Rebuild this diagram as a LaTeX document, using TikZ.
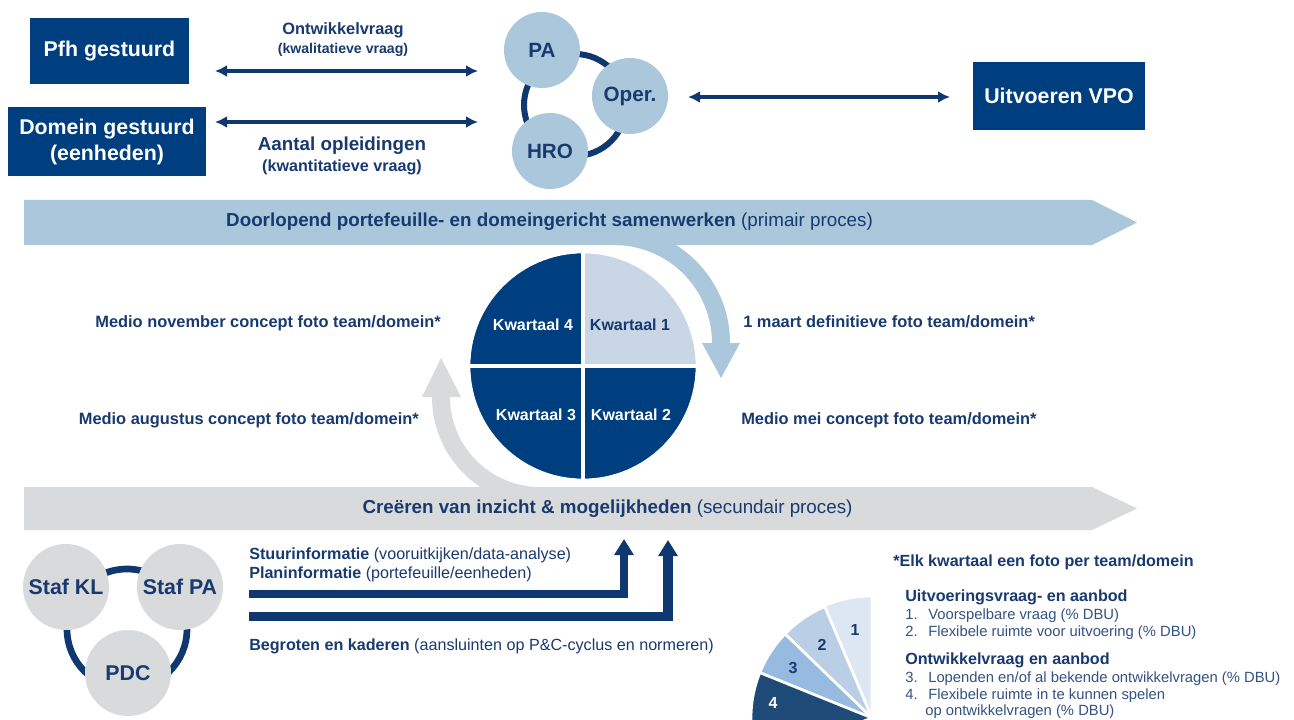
\documentclass[tikz,border=0pt]{standalone}
\usepackage{fontspec}
\setmainfont{Liberation Sans}
\usetikzlibrary{arrows.meta}
\definecolor{dblue}{RGB}{0,63,127}
\definecolor{tblue}{RGB}{24,58,112}
\definecolor{nblue}{RGB}{16,56,112}
\definecolor{bandb}{RGB}{171,199,219}
\definecolor{bandg}{RGB}{217,218,220}
\definecolor{qlight}{RGB}{200,214,230}
\definecolor{ltext}{RGB}{52,82,130}
\definecolor{sone}{RGB}{221,231,243}
\definecolor{stwo}{RGB}{186,207,230}
\definecolor{sthree}{RGB}{150,186,224}
\definecolor{sfour}{RGB}{30,74,120}
\begin{document}
\begin{tikzpicture}[x=0.75pt,y=-0.75pt,
  box/.style={fill=dblue, text=white, font=\bfseries\fontsize{16}{19.5}\selectfont, align=center, inner sep=0pt},
  topc/.style={circle, fill=bandb, minimum size=57pt, inner sep=0pt, text=tblue, font=\bfseries\fontsize{15.5}{18}\selectfont},
  botc/.style={circle, fill=bandg, minimum size=64.5pt, inner sep=0pt, text=tblue, font=\bfseries\fontsize{16}{19}\selectfont},
  dbl/.style={draw=nblue, line width=2.4pt, {Latex[length=9pt,width=9pt]}-{Latex[length=9pt,width=9pt]}},
  lbl/.style={text=tblue, inner sep=0pt, font=\bfseries\fontsize{12.3}{14}\selectfont},
  qlbl/.style={inner sep=0pt, font=\bfseries\fontsize{12}{14}\selectfont},
  bandtxt/.style={text=tblue, inner sep=0pt, font=\fontsize{14.1}{17}\selectfont},
  btxt/.style={text=tblue, inner sep=0pt, anchor=west, font=\fontsize{12.1}{14}\selectfont},
  ltxt/.style={text=ltext, inner sep=0pt, anchor=west, text height=8.2pt, text depth=2.4pt, font=\fontsize{11.1}{13}\selectfont},
  hd/.style={text=tblue, inner sep=0pt, anchor=west, font=\bfseries\fontsize{12.1}{14}\selectfont},
  larrow/.style={draw=nblue, line join=miter, -{Triangle[length=12pt,width=14pt]}},
  pnum/.style={inner sep=0pt, font=\bfseries\fontsize{12}{14}\selectfont}
]
\useasboundingbox (0,0) rectangle (1294,720);
\fill[white] (0,0) rectangle (1294,720);

% ---- top row boxes
\node[box, minimum width=119pt, minimum height=49pt] (pfh) at (109.5,51) {Pfh gestuurd};
\node[box, minimum width=148.5pt, minimum height=52pt] (dom) at (107,141.5) {Domein gestuurd\\(eenheden)};
\node[box, minimum width=129pt, minimum height=51pt] (vpo) at (1059,96) {Uitvoeren VPO};

% ---- top ring of circles
\draw[nblue, line width=4.5pt] (575,105) circle[radius=51];
\node[topc] (pa) at (542,50) {PA};
\node[topc] (oper) at (630,96) {Oper.};
\node[topc] (hro) at (550,151) {HRO};

% ---- double arrows
\coordinate (a1l) at (215,71); \coordinate (a1r) at (478,71);
\coordinate (a2l) at (215,122); \coordinate (a2r) at (478,122);
\coordinate (a3l) at (688,97); \coordinate (a3r) at (950,97);
\draw[dbl] (a1l) -- (a1r);
\draw[dbl] (a2l) -- (a2r);
\draw[dbl] (a3l) -- (a3r);
\node[text=tblue, font=\bfseries\fontsize{12.3}{14}\selectfont] (ow) at (343,30) {Ontwikkelvraag};
\node[text=tblue, font=\bfseries\fontsize{10.6}{12}\selectfont] (kw) at (343,50) {(kwalitatieve vraag)};
\node[text=tblue, font=\bfseries\fontsize{14.1}{16}\selectfont] (ao) at (342,146) {Aantal opleidingen};
\node[text=tblue, font=\bfseries\fontsize{12.1}{14}\selectfont] (kn) at (342,167) {(kwantitatieve vraag)};

% ---- process bands and curved arrows
\fill[bandb] (24,200) -- (1092,200) -- (1137,222.5) -- (1092,245) -- (24,245) -- cycle;
\fill[bandb] (614,227) arc[start angle=-90, end angle=0, radius=116] -- (740,343) -- (721,378) -- (702,343) -- (712,343) arc[start angle=0, end angle=-90, radius=98] -- cycle;
\fill[bandg] (24,487) -- (1092,487) -- (1137,508.5) -- (1092,530) -- (24,530) -- cycle;
\fill[bandg] (540,487) arc[start angle=90, end angle=180, radius=90] -- (461,397) -- (441,358) -- (422,397) -- (432,397) arc[start angle=180, end angle=90, radius=108] -- cycle;
\node[bandtxt] (prim) at (549.5,222) {\textbf{Doorlopend portefeuille- en domeingericht samenwerken} (primair proces)};
\node[bandtxt] (sec) at (607.5,509) {\textbf{Creëren van inzicht \& mogelijkheden} (secundair proces)};

% ---- quarter circle
\coordinate (qc) at (583,366);
\fill[dblue] (qc) -- (583,253) arc[start angle=-90, end angle=-180, radius=113] -- cycle;
\fill[qlight] (qc) -- (583,253) arc[start angle=-90, end angle=0, radius=113] -- cycle;
\fill[dblue] (qc) -- (696,366) arc[start angle=0, end angle=90, radius=113] -- cycle;
\fill[dblue] (qc) -- (583,479) arc[start angle=90, end angle=180, radius=113] -- cycle;
\draw[white, line width=3pt] (583,250) -- (583,482) (467,366) -- (699,366);
\draw[white, line width=2pt] (qc) circle[radius=114];
\node[qlbl, text=white] (k4) at (533,325) {Kwartaal 4};
\node[qlbl, text=tblue] (k1) at (630,325) {Kwartaal 1};
\node[qlbl, text=white] (k3) at (536,415) {Kwartaal 3};
\node[qlbl, text=white] (k2) at (631,415) {Kwartaal 2};

% ---- side labels
\node[lbl, anchor=east] (nov) at (441,323) {Medio november concept foto team/domein*};
\node[lbl, anchor=east] (aug) at (419,420) {Medio augustus concept foto team/domein*};
\node[lbl, anchor=west] (maa) at (743,322) {1 maart definitieve foto team/domein*};
\node[lbl, anchor=west] (mei) at (741,420) {Medio mei concept foto team/domein*};

% ---- bottom-left circles
\draw[nblue, line width=5pt] (127,629) circle[radius=60];
\node[botc] (kl) at (66,587) {Staf KL};
\node[botc] (spa) at (180,587) {Staf PA};
\node[botc] (pdc) at (128,673) {PDC};

% ---- L arrows
\coordinate (l1s) at (249,594); \coordinate (l1e) at (624,539);
\coordinate (l2s) at (249,616.5); \coordinate (l2e) at (668,540);
\draw[larrow, line width=6pt] (l1s) -| (l1e);
\draw[larrow, line width=7pt] (l2s) -| (l2e);
\node[btxt] (stu) at (249,555) {\textbf{Stuurinformatie} (vooruitkijken/data-analyse)};
\node[btxt] (pla) at (249,574) {\textbf{Planinformatie} (portefeuille/eenheden)};
\node[btxt] (beg) at (249,646) {\textbf{Begroten en kaderen} (aansluinten op P\&C-cyclus en normeren)};

% ---- pie
\coordinate (pc) at (872,718);
\fill[sone, draw=white, line width=2pt] (pc) -- +(-90:122) arc[start angle=-90, end angle=-113, radius=122] -- cycle;
\fill[stwo, draw=white, line width=2pt] (pc) -- +(-113:121) arc[start angle=-113, end angle=-136, radius=121] -- cycle;
\fill[sthree, draw=white, line width=2pt] (pc) -- +(-136:121) arc[start angle=-136, end angle=-158, radius=121] -- cycle;
\fill[sfour, draw=white, line width=2pt] (pc) -- +(-158:121) arc[start angle=-158, end angle=-200, radius=121] -- cycle;
\node[pnum, text=tblue] (p1) at (855,630) {1};
\node[pnum, text=tblue] (p2) at (822,645) {2};
\node[pnum, text=tblue] (p3) at (793,668) {3};
\node[pnum, text=white] (p4) at (773,703) {4};

% ---- legend text
\node[hd] (elk) at (893,562) {*Elk kwartaal een foto per team/domein};
\node[hd] (h1) at (905,597) {Uitvoeringsvraag- en aanbod};
\node[ltxt] (n1) at (905,616) {1.}; \node[ltxt] (t1) at (928,616) {Voorspelbare vraag (\% DBU)};
\node[ltxt] (n2) at (905,633) {2.}; \node[ltxt] (t2) at (928,633) {Flexibele ruimte voor uitvoering (\% DBU)};
\node[hd] (h2) at (905,660) {Ontwikkelvraag en aanbod};
\node[ltxt] (n3) at (905,679) {3.}; \node[ltxt] (t3) at (928,679) {Lopenden en/of al bekende ontwikkelvragen (\% DBU)};
\node[ltxt] (n4) at (905,696) {4.}; \node[ltxt] (t4) at (928,696) {Flexibele ruimte in te kunnen spelen};
\node[ltxt] (t5) at (925,712) {op ontwikkelvragen (\% DBU)};
\end{tikzpicture}
\end{document}
